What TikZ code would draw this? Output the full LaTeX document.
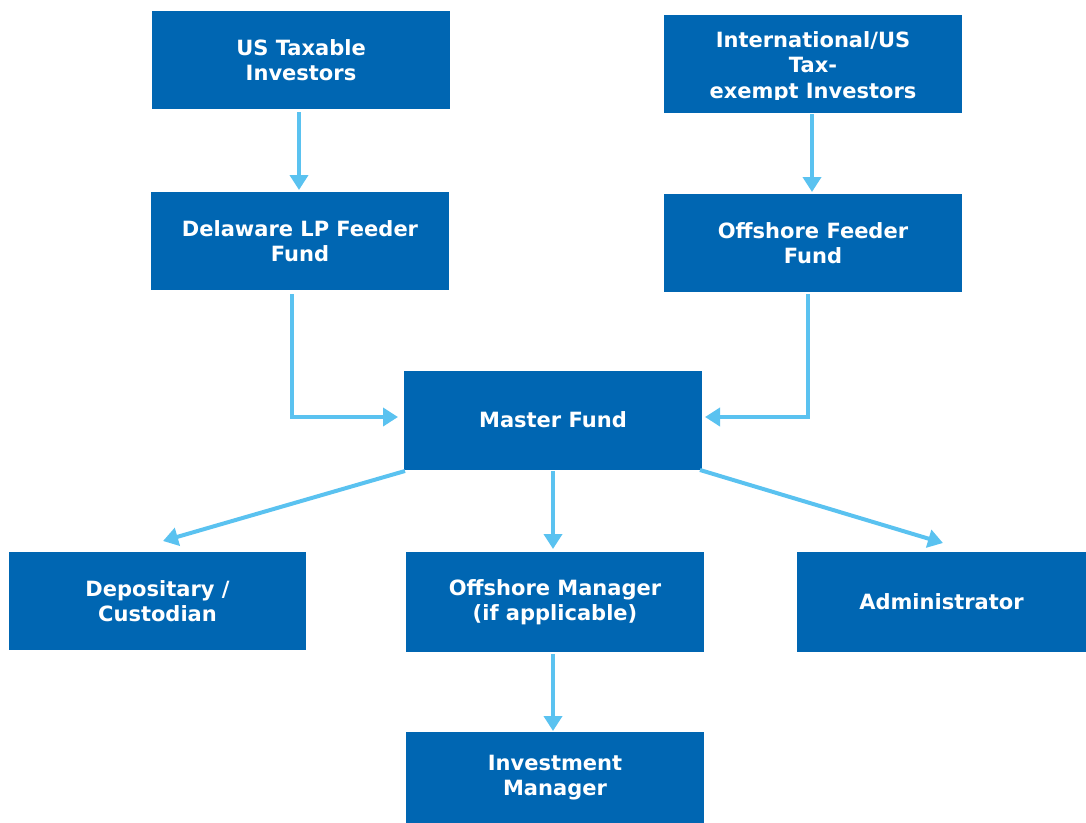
\documentclass[tikz,border=0pt]{standalone}
\usepackage{fontspec}
\setmainfont{DejaVu Sans}
\usetikzlibrary{arrows.meta}
\definecolor{boxblue}{RGB}{0,102,178}
\definecolor{arrowblue}{RGB}{90,194,240}
\begin{document}
\begin{tikzpicture}[x=1pt,y=-1pt,
  fbox/.style={fill=boxblue, text=white, font=\bfseries\fontsize{21}{25}\selectfont, align=center, inner sep=0pt},
  conn/.style={draw=arrowblue, line width=4pt, -{Triangle[length=15pt,width=18pt]}}]
\useasboundingbox (0,0) rectangle (1086,822);
\node[fbox, minimum width=298, minimum height=98] (ustax) at (301,60) {US Taxable\\Investors};
\node[fbox, minimum width=298, minimum height=98] (intl) at (813,64) {};
\begin{scope}
\clip (664,15) rectangle (962,99);
\node[font=\bfseries\fontsize{21}{25.5}\selectfont, text=white, align=center] (intltext) at (813,67) {International/US\\Tax-\\exempt Investors};
\end{scope}
\node[fbox, minimum width=298, minimum height=98] (delaware) at (300,241) {Delaware LP Feeder\\Fund};
\node[fbox, minimum width=298, minimum height=98] (offfeeder) at (813,243) {Offshore Feeder\\Fund};
\node[fbox, minimum width=298, minimum height=99] (master) at (553,420) {Master Fund};
\node[fbox, minimum width=297, minimum height=98] (depos) at (157.5,601) {Depositary /\\Custodian};
\node[fbox, minimum width=298, minimum height=100] (offmgr) at (555,602) {Offshore Manager\\(if applicable)};
\node[fbox, minimum width=289, minimum height=100] (admin) at (941.5,602) {Administrator};
\node[fbox, minimum width=298, minimum height=92] (invmgr) at (555,778) {Investment\\Manager};
\coordinate (dcorner) at (292,417);
\coordinate (ocorner) at (808,417);
\draw[conn] (ustax.south -| 299,0) ++(0,3) -- (299,190);
\draw[conn] (intl.south -| 812,0) ++(0,1) -- (812,192);
\draw[conn] (292,294) -- (dcorner) -- (398,417);
\draw[conn] (808,294) -- (ocorner) -- (705,417);
\draw[conn] (405,471) -- (163,541);
\draw[conn] (553,471) -- (553,549);
\draw[conn] (700,470) -- (943,543);
\draw[conn] (553,654) -- (553,731);
\end{tikzpicture}
\end{document}
